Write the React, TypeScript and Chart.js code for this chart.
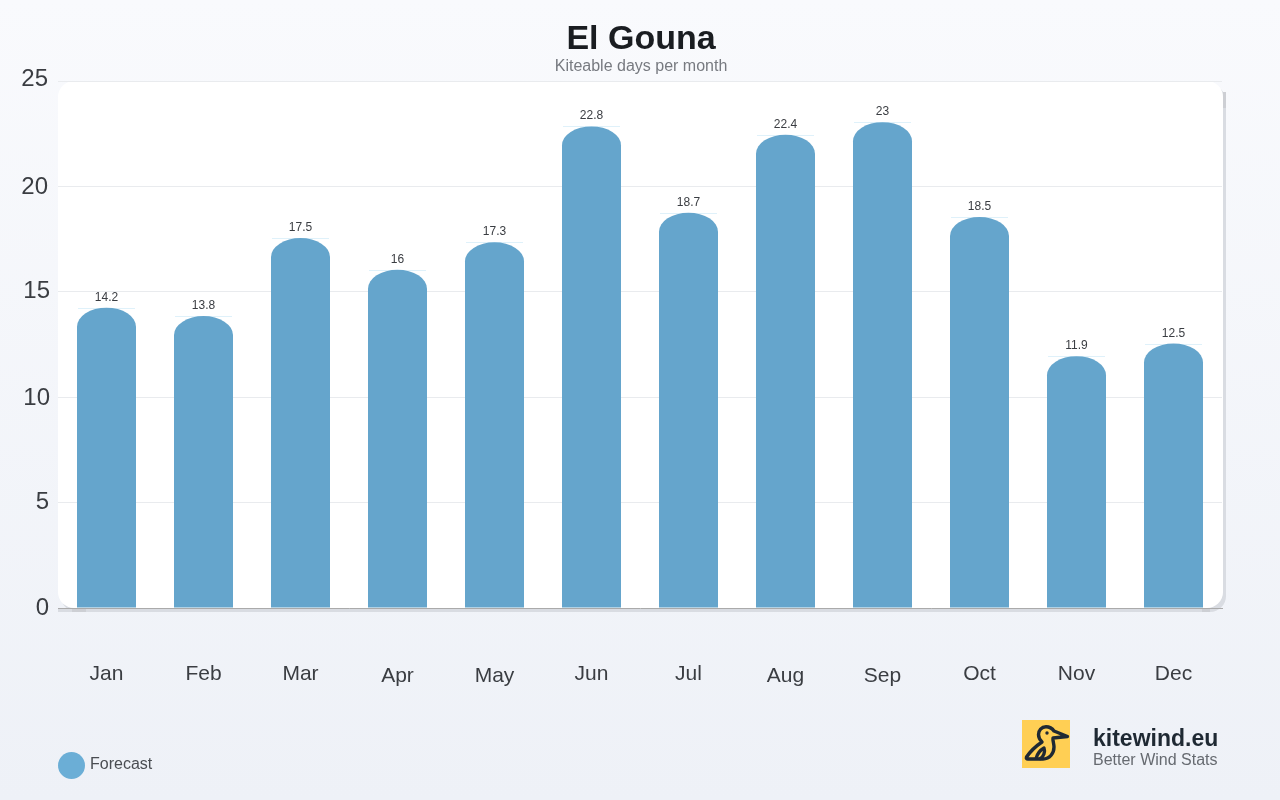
import { useEffect, useRef } from 'react'
import { Chart, registerables } from 'chart.js'

Chart.register(...registerables)

const FONT = '"Liberation Sans", Arial, sans-serif'

const months = ['Jan', 'Feb', 'Mar', 'Apr', 'May', 'Jun', 'Jul', 'Aug', 'Sep', 'Oct', 'Nov', 'Dec']
const kiteableDays = [14.2, 13.8, 17.5, 16, 17.3, 22.8, 18.7, 22.4, 23, 18.5, 11.9, 12.5]

// the source's y labels sit slightly off their grid lines, bottom tick first
const yLabelNudge = [0, 0, 1, 0, 1, -2]
const yLabelRight = [49, 49, 50, 50, 48, 48]

const BAR_COLOR = '#65a5cc'
const CAP_HEIGHT = 19

const panelPlugin = {
  id: 'panel',
  beforeDraw(chart: any) {
    const { ctx, chartArea: a } = chart
    const w = a.right - a.left + 1
    const h = a.bottom - a.top
    ctx.save()
    ctx.fillStyle = '#d9dce2'
    ctx.beginPath()
    ctx.roundRect(a.left + 3, a.top + 4, w, h, 16)
    ctx.fill()
    ctx.fillRect(a.left, a.bottom, 30, 4)
    // darker spots where the shadow curves round the corners
    ctx.fillStyle = '#cdcfd4'
    ctx.fillRect(a.left + 14, a.bottom, 14, 4)
    ctx.fillRect(a.right - 20, a.bottom, 8, 4)
    ctx.fillRect(a.right + 1, a.top + 11, 3, 16)
    ctx.fillStyle = '#ffffff'
    ctx.beginPath()
    ctx.roundRect(a.left, a.top, w, h, 16)
    ctx.fill()
    ctx.restore()
  },
}

// bars have an elliptical cap that borderRadius can't do, and a pale line on top
const capBarPlugin = {
  id: 'capBar',
  beforeDatasetDraw(chart: any, args: any) {
    const { ctx } = chart
    for (const bar of args.meta.data) {
      const { x, y, base, width } = bar.getProps(['x', 'y', 'base', 'width'], true)
      const rx = width / 2
      const top = y - 1
      ctx.save()
      ctx.strokeStyle = '#dff1fa'
      ctx.lineWidth = 1
      ctx.beginPath()
      ctx.moveTo(x - 28.5, Math.round(top) + 0.5)
      ctx.lineTo(x + 28.5, Math.round(top) + 0.5)
      ctx.stroke()
      ctx.fillStyle = BAR_COLOR
      ctx.beginPath()
      ctx.moveTo(x - rx, base)
      ctx.lineTo(x - rx, top + CAP_HEIGHT)
      ctx.ellipse(x, top + CAP_HEIGHT, rx, CAP_HEIGHT, 0, Math.PI, 2 * Math.PI)
      ctx.lineTo(x + rx, base)
      ctx.closePath()
      ctx.fill()
      ctx.restore()
    }
    return false
  },
}

const labelsPlugin = {
  id: 'labels',
  afterDatasetsDraw(chart: any) {
    const { ctx, scales } = chart
    ctx.save()

    // value labels
    const meta = chart.getDatasetMeta(0)
    ctx.font = `12px ${FONT}`
    ctx.fillStyle = '#3a3d42'
    ctx.textAlign = 'center'
    ctx.textBaseline = 'alphabetic'
    meta.data.forEach((bar: any, i: number) => {
      ctx.fillText(String(kiteableDays[i]), bar.x, bar.y - 8)
    })

    // x labels, those with a descender sit 2px lower
    ctx.font = `21px ${FONT}`
    ctx.fillStyle = '#3a3d42'
    ctx.textBaseline = 'middle'
    months.forEach((m, i) => {
      const drop = /[gpqy]/.test(m) ? 2 : 0
      ctx.fillText(m, scales.x.getPixelForTick(i), 674 + drop)
    })

    // y labels
    ctx.font = `24px ${FONT}`
    ctx.textAlign = 'right'
    scales.y.ticks.forEach((t: any, i: number) => {
      ctx.fillText(String(t.value), yLabelRight[i], scales.y.getPixelForTick(i) + yLabelNudge[i])
    })

    // legend
    ctx.fillStyle = '#6baed6'
    ctx.beginPath()
    ctx.arc(71.5, 765.5, 13.5, 0, 2 * Math.PI)
    ctx.fill()
    ctx.font = `16px ${FONT}`
    ctx.fillStyle = '#4a4d52'
    ctx.textAlign = 'left'
    ctx.fillText(chart.data.datasets[0].label, 90, 765)
    ctx.restore()
  },
}

export default function App() {
  const canvasRef = useRef<HTMLCanvasElement>(null)

  useEffect(() => {
    if (!canvasRef.current) return
    const chart = new Chart(canvasRef.current, {
      type: 'bar',
      data: {
        labels: months,
        datasets: [{
          label: 'Forecast',
          data: kiteableDays,
          backgroundColor: BAR_COLOR,
          barPercentage: 59 / 97,
          categoryPercentage: 1,
        }],
      },
      options: {
        responsive: false,
        animation: false,
        layout: { padding: { left: 2, right: 0, top: 0, bottom: 0 } },
        font: { family: FONT },
        plugins: {
          legend: { display: false },
          tooltip: { enabled: false },
          title: {
            display: true,
            text: 'El Gouna',
            color: '#1a1d21',
            font: { family: FONT, size: 34, weight: 'bold', lineHeight: 1 },
            padding: { top: 23, bottom: 0.4 },
          },
          subtitle: {
            display: true,
            text: 'Kiteable days per month',
            color: '#777a80',
            font: { family: FONT, size: 16, weight: 'normal', lineHeight: 1.2 },
            padding: { top: 0, bottom: 4.4 },
          },
        },
        scales: {
          x: {
            afterFit: (s: any) => { s.height = 192 },
            grid: { display: false },
            border: { color: '#aaaaaa', width: 1 },
            ticks: { display: false },
          },
          y: {
            min: 0,
            max: 25,
            afterFit: (s: any) => { s.width = 56 },
            grid: { color: '#e9ebee', lineWidth: 1, drawTicks: false },
            border: { display: false },
            ticks: { display: false, stepSize: 5 },
          },
          // empty axis, only keeps the plot clear of the right margin so the title stays centred
          margin: {
            position: 'right',
            min: 0,
            max: 1,
            afterFit: (s: any) => { s.width = 58 },
            grid: { display: false },
            border: { display: false },
            ticks: { display: false },
          },
        },
      },
      plugins: [panelPlugin, capBarPlugin, labelsPlugin],
    } as any)
    return () => { chart.destroy() }
  }, [])

  return (
    <div style={{
      position: 'fixed', left: 0, top: 0, width: 1280, height: 800, overflow: 'hidden',
      background: 'linear-gradient(180deg, #f9fafd 0%, #eef1f7 100%)', fontFamily: FONT,
    }}>
      <canvas ref={canvasRef} width={1280} height={800} style={{ display: 'block', width: 1280, height: 800 }} />
      <svg width={48} height={48} viewBox="0 0 48 48" style={{ position: 'absolute', left: 1022, top: 720 }}>
        <rect width={48} height={48} fill="#ffcf54" />
        <g fill="none" stroke="#1f2933" strokeWidth={3.4} strokeLinecap="round" strokeLinejoin="round">
          <path d="M32 11 C30 8 27 6.7 24 6.7 C19.5 6.7 16.5 10.5 16.5 14.5 C16.5 17.5 18 20 20 22 C14 26 8 32 4.5 37 C4 38.3 4.5 39 6 39 L21 39 C28 39 32 33 32 27 C32 23.5 30.5 20.5 31 18 L45.5 16.5 Z" />
          <path d="M14.3 38 C15.5 33 18.5 30 22 28 C23.5 32 21.5 36.5 18.5 38.5" />
        </g>
        <circle cx={25} cy={13} r={1.7} fill="#1f2933" />
      </svg>
      <div style={{ position: 'absolute', left: 1093, top: 724, fontSize: 23, lineHeight: '28px', fontWeight: 'bold', color: '#1f2933' }}>kitewind.eu</div>
      <div style={{ position: 'absolute', left: 1093, top: 750, fontSize: 16, lineHeight: '19px', color: '#666a70' }}>Better Wind Stats</div>
    </div>
  )
}
